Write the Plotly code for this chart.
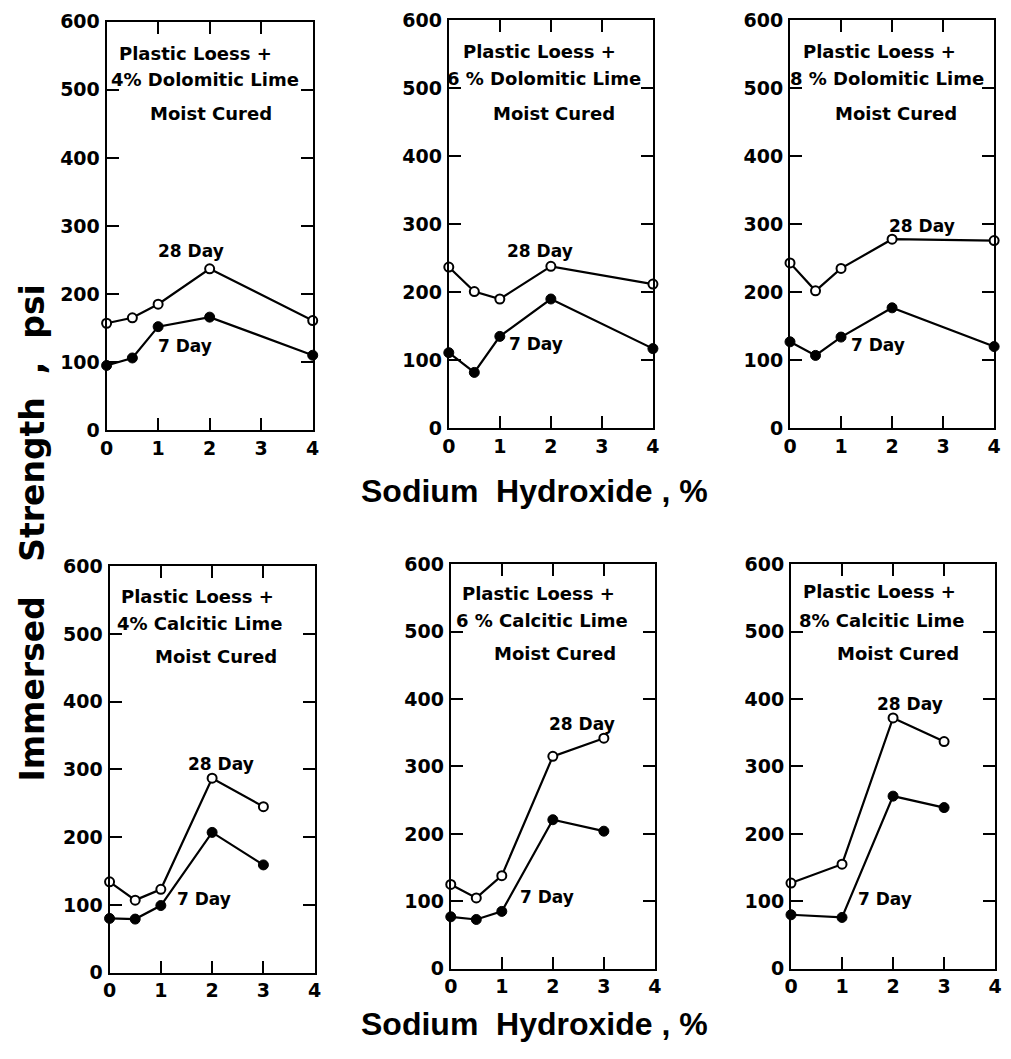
import plotly.graph_objects as go

# Sodium hydroxide contents (%) for each mix series
naoh_dol = [0, 0.5, 1, 2, 4]
naoh_cal = [0, 0.5, 1, 2, 3]
naoh_cal8 = [0, 1, 2, 3]

# Immersed strength (psi), 28-day and 7-day moist cure
dol4_28 = [157, 165, 185, 237, 161]
dol4_7 = [95, 106, 152, 166, 110]
dol6_28 = [237, 201, 190, 238, 212]
dol6_7 = [111, 82, 135, 190, 117]
dol8_28 = [243, 202, 235, 278, 276]
dol8_7 = [127, 107, 134, 177, 120]
cal4_28 = [134, 107, 123, 287, 245]
cal4_7 = [80, 79, 99, 207, 159]
cal6_28 = [125, 105, 138, 315, 342]
cal6_7 = [77, 73, 85, 221, 204]
cal8_28 = [127, 155, 372, 337]
cal8_7 = [80, 76, 256, 239]

NB = "\u00a0"
titles = [
    ["Plastic Loess +", "4% Dolomitic Lime", "Moist Cured"],
    ["Plastic Loess +", "6 % Dolomitic Lime", "Moist Cured"],
    ["Plastic Loess +", "8 % Dolomitic Lime", "Moist Cured"],
    ["Plastic Loess +", "4% Calcitic Lime", "Moist Cured"],
    ["Plastic Loess +", "6 % Calcitic Lime", "Moist Cured"],
    ["Plastic Loess +", "8% Calcitic Lime", "Moist Cured"],
]
x_ticks = [0, 1, 2, 3, 4]
y_ticks = [0, 100, 200, 300, 400, 500, 600]

panels = [
    (naoh_dol, dol4_28, dol4_7),
    (naoh_dol, dol6_28, dol6_7),
    (naoh_dol, dol8_28, dol8_7),
    (naoh_cal, cal4_28, cal4_7),
    (naoh_cal, cal6_28, cal6_7),
    (naoh_cal8, cal8_28, cal8_7),
]

# title line positions and curve label positions (data coords) per panel
title_pos = [
    [(1.73, 554), (1.90, 515), (2.02, 465)],
    [(1.77, 554), (1.86, 514), (2.06, 463)],
    [(1.75, 554), (1.90, 514), (2.08, 463)],
    [(1.71, 556), (1.77, 515), (2.08, 467)],
    [(1.72, 556), (1.78, 516), (2.05, 467)],
    [(1.74, 559), (1.78, 516), (2.09, 467)],
]
lab28_pos = [(1.63, 263), (1.79, 261), (2.58, 297), (2.17, 308), (2.57, 363), (2.34, 393)]
lab7_pos = [(1.52, 124), (1.71, 124), (1.73, 123), (1.84, 108), (1.88, 106), (1.84, 104)]

W, H = 1011, 1059
# plot boxes in pixels: (left, right, bottom, top)
boxes = [
    (101, 310, 428, 11),
    (448, 655, 426, 9.5),
    (794, 1001, 426, 9.5),
    (104, 312, 982, 567),
    (450, 657, 978, 565),
    (795, 1002, 978, 565),
]

FONT = "DejaVu Sans"
fig = go.Figure()
layout = {}
annotations = []

for i, ((xs, y28, y7), box) in enumerate(zip(panels, boxes)):
    n = "" if i == 0 else str(i + 1)
    xa, ya = "x" + n, "y" + n
    l, r, b, t = box
    layout["xaxis" + n] = dict(
        domain=[l / W, r / W], range=[0, 4], anchor=ya,
        tickvals=x_ticks, ticktext=[str(v) for v in x_ticks],
        showline=True, linecolor="black", linewidth=2, mirror="ticks",
        ticks="inside", ticklen=12, tickwidth=2, tickcolor="black",
        showgrid=False, zeroline=False,
        tickfont=dict(family=FONT, size=19, color="black", weight="bold"),
        fixedrange=True,
    )
    layout["yaxis" + n] = dict(
        domain=[(H - b) / H, (H - t) / H], range=[0, 600], anchor=xa,
        tickvals=y_ticks, ticktext=[str(v) for v in y_ticks],
        showline=True, linecolor="black", linewidth=2, mirror="ticks",
        ticks="inside", ticklen=12, tickwidth=2, tickcolor="black",
        showgrid=False, zeroline=False, ticklabelstandoff=1,
        tickfont=dict(family=FONT, size=19, color="black", weight="bold"),
        fixedrange=True,
    )
    fig.add_trace(go.Scatter(
        x=xs, y=y28, xaxis=xa, yaxis=ya, mode="lines+markers",
        line=dict(color="black", width=2.2),
        marker=dict(symbol="circle", size=9, color="white",
                    line=dict(color="black", width=2)),
        cliponaxis=False, showlegend=False, name="28 Day",
    ))
    fig.add_trace(go.Scatter(
        x=xs, y=y7, xaxis=xa, yaxis=ya, mode="lines+markers",
        line=dict(color="black", width=2.2),
        marker=dict(symbol="circle", size=10, color="black",
                    line=dict(color="black", width=1)),
        cliponaxis=False, showlegend=False, name="7 Day",
    ))
    for text, (tx, ty) in zip(titles[i], title_pos[i]):
        annotations.append(dict(
            x=tx, y=ty, xref=xa, yref=ya, text=text, showarrow=False,
            font=dict(family=FONT, size=18, color="black", weight="bold"),
            xanchor="center", yanchor="middle",
        ))
    for text, (tx, ty) in (("28 Day", lab28_pos[i]), ("7 Day", lab7_pos[i])):
        annotations.append(dict(
            x=tx, y=ty, xref=xa, yref=ya, text=text, showarrow=False,
            font=dict(family=FONT, size=17, color="black", weight="bold"),
            xanchor="center", yanchor="middle",
        ))

# shared axis titles
for ypix in (490, 1034):
    annotations.append(dict(
        x=535 / W, y=(H - ypix) / H, xref="paper", yref="paper",
        text="Sodium" + NB * 2 + "Hydroxide" + NB + "," + NB + "%", showarrow=False,
        font=dict(family="Liberation Sans", size=32, color="black", weight="bold"),
        xanchor="center", yanchor="middle",
    ))
annotations.append(dict(
    x=26 / W, y=(H - 533) / H, xref="paper", yref="paper",
    text="Immersed" + NB * 3 + "Strength" + NB * 2 + "," + NB * 2 + "psi",
    showarrow=False, textangle=-90,
    font=dict(family=FONT, size=33, color="black", weight="bold"),
    xanchor="center", yanchor="middle",
))

fig.update_layout(
    width=W, height=H,
    margin=dict(l=0, r=0, t=0, b=0),
    paper_bgcolor="white", plot_bgcolor="white",
    annotations=annotations,
    **layout,
)

fig.write_html("out.html", config={"displayModeBar": False})
